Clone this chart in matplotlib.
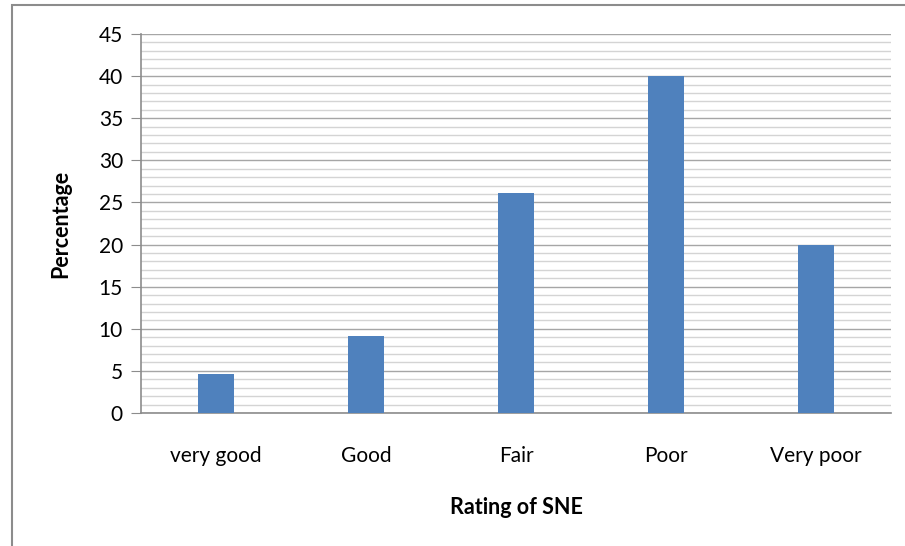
import numpy as np
import matplotlib.pyplot as plt
from matplotlib.patches import Rectangle
from matplotlib.ticker import MultipleLocator

#%% Dados
categorias = ['very good', 'Good', 'Fair', 'Poor', 'Very poor']
percentagem = [4.6, 9.1, 26.1, 40.0, 20.0]

plt.rcParams['font.family'] = ['Lato', 'DejaVu Sans']

#%% Gráfico
fig = plt.figure(figsize=(9.05, 5.46), dpi=100)
# moldura do gráfico (cortada à direita e embaixo)
fig.patches.append(Rectangle((12/905, -0.1), 1.2, 1 - 5/546 + 0.1, transform=fig.transFigure,
                             fill=False, edgecolor='#8c8c8c', linewidth=1.5))
ax = fig.add_axes([141/905, 1 - 413/546, 750/905, 379/546])

x = np.arange(len(categorias))
ax.bar(x, percentagem, width=0.24, color='#4f81bd', zorder=3)

ax.set_xlim(-0.5, len(categorias) - 0.5)
ax.set_ylim(0, 45)
ax.yaxis.set_major_locator(MultipleLocator(5))
ax.yaxis.set_minor_locator(MultipleLocator(1))
ax.grid(which='major', axis='y', color='#a6a6a6', linewidth=1.0, zorder=0)
ax.grid(which='minor', axis='y', color='#d4d4d4', linewidth=1.0, zorder=0)

ax.set_xticks(x)
ax.set_xticklabels(categorias, fontsize=15)
ax.tick_params(axis='x', length=0, pad=24)
ax.tick_params(axis='y', which='major', length=7, color='#8c8c8c', labelsize=15, pad=6)
ax.tick_params(axis='y', which='minor', length=0)

for lado in ['top', 'right']:
    ax.spines[lado].set_visible(False)
for lado in ['left', 'bottom']:
    ax.spines[lado].set_color('#8c8c8c')
    ax.spines[lado].set_linewidth(1.2)

ax.set_ylabel('Percentage', fontsize=15.5, fontweight='bold', labelpad=20)
ax.set_xlabel('Rating of SNE', fontsize=15.5, fontweight='bold', labelpad=22)

plt.savefig('out.png', dpi=100)
